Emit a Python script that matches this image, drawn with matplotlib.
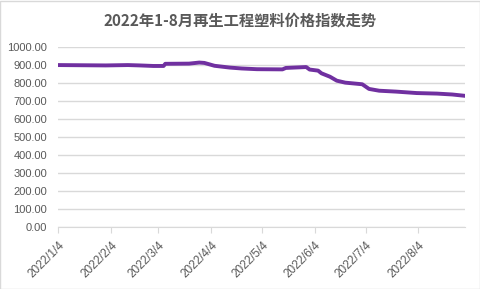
import matplotlib
matplotlib.use('Agg')
import matplotlib.pyplot as plt
import pandas as pd

# index data
dates = ['2022-01-04', '2022-01-18', '2022-02-01', '2022-02-14', '2022-02-21',
         '2022-03-01', '2022-03-07', '2022-03-08', '2022-03-22', '2022-03-28',
         '2022-03-31', '2022-04-06', '2022-04-15', '2022-04-22', '2022-05-01',
         '2022-05-16', '2022-05-18', '2022-05-30', '2022-06-01', '2022-06-06',
         '2022-06-08', '2022-06-13', '2022-06-17', '2022-06-22', '2022-07-02',
         '2022-07-06', '2022-07-12', '2022-07-22', '2022-08-03', '2022-08-15',
         '2022-08-24', '2022-08-31']
values = [901, 900, 899, 901, 899,
          896, 896, 908, 909, 915,
          913, 897, 887, 882, 878,
          877, 885, 890, 876, 870,
          855, 836, 814, 803, 794,
          768, 758, 753, 745, 742,
          737, 730]
tick_dates = ['2022-01-04', '2022-02-04', '2022-03-04', '2022-04-04',
              '2022-05-04', '2022-06-04', '2022-07-04', '2022-08-04']

x = pd.to_datetime(dates)
ticks = pd.to_datetime(tick_dates)
gray = '#595959'

fig = plt.figure(figsize=(4.81, 2.89), dpi=100)
fig.patches.append(plt.Rectangle((0.001, 0.001), 0.997, 0.996, transform=fig.transFigure,
                                 fill=False, edgecolor='#D9D9D9', linewidth=1))
ax = fig.add_axes([0.1212, 0.2156, 0.8455, 0.6207])

ax.plot(x, values, color='#7030A0', linewidth=2.8, solid_joinstyle='round')

ax.set_ylim(0, 1000)
ax.set_yticks(range(0, 1001, 100))
ax.set_yticklabels(['%.2f' % v for v in range(0, 1001, 100)])
ax.set_xlim(pd.Timestamp('2022-01-04'), pd.Timestamp('2022-08-31 12:00'))
ax.set_xticks(ticks)
ax.set_xticklabels(['%d/%d/%d' % (d.year, d.month, d.day) for d in ticks],
                   rotation=45, ha='right', va='top', rotation_mode='anchor')

ax.grid(axis='y', color='#D9D9D9', linewidth=1)
ax.set_axisbelow(True)
for s in ['top', 'right', 'left']:
    ax.spines[s].set_visible(False)
ax.spines['bottom'].set_color('#D9D9D9')
ax.tick_params(axis='y', length=0, pad=8, labelsize=8, labelcolor=gray)
ax.tick_params(axis='x', length=4, pad=5, color='#D9D9D9', labelsize=8.5, labelcolor=gray)
for lab in ax.get_xticklabels() + ax.get_yticklabels():
    lab.set_family('Liberation Sans')

fig.text(0.5, 0.93, '2022年1-8月再生工程塑料价格指数走势', ha='center', va='center',
         fontsize=11, fontweight='bold', color=gray,
         family=['Noto Sans CJK SC', 'DejaVu Sans'])

fig.savefig('out.png', dpi=100)
